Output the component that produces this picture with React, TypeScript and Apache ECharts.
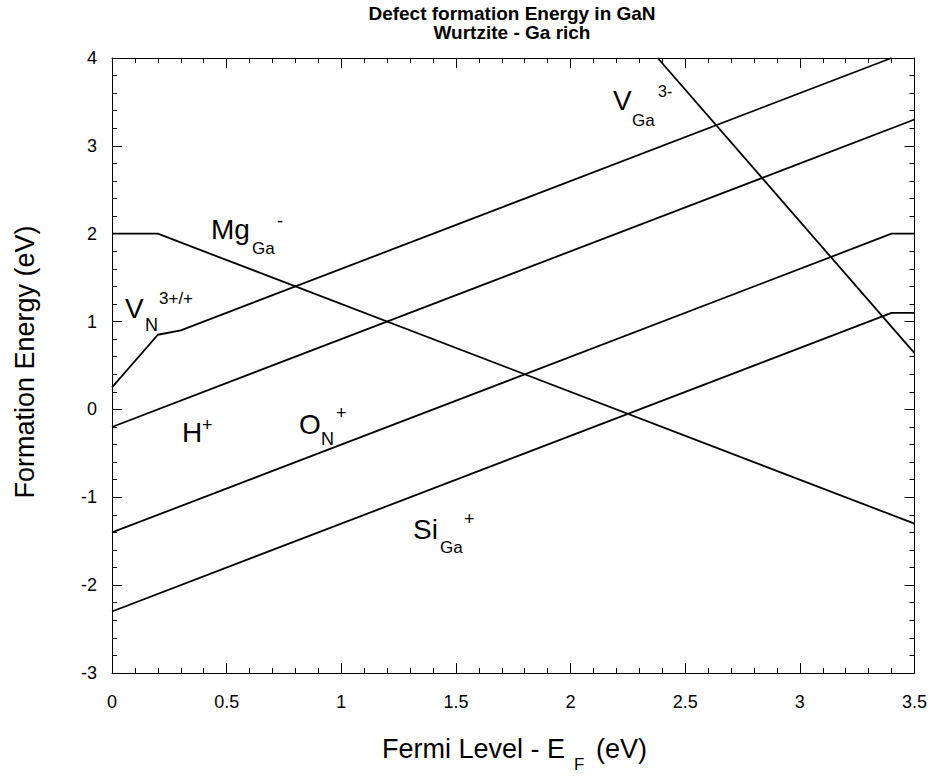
import React, { useEffect, useRef } from "react";
import * as echarts from "echarts";

const FONT = '"Liberation Sans", Arial, Helvetica, sans-serif';

// Axis ranges
const xRange = [0, 3.5];
const yRange = [-3, 4];

// Defect formation energy lines (eV)
const mgGaX = [0, 0.2, 3.5];
const mgGaY = [2.0, 2.0, -1.3];

const vNX = [0, 0.2, 0.3, 3.4];
const vNY = [0.25, 0.85, 0.9, 4.0];

const hX = [0, 3.5];
const hY = [-0.2, 3.3];

const oNX = [0, 3.4, 3.5];
const oNY = [-1.4, 2.0, 2.0];

const siGaX = [0, 3.4, 3.5];
const siGaY = [-2.3, 1.1, 1.1];

const vGaX = [2.38, 3.5];
const vGaY = [4.0, 0.64];

const titleLines = ["Defect formation Energy in GaN", "Wurtzite - Ga rich"];
const yTitle = "Formation Energy (eV)";

const pairs = (xs: number[], ys: number[]) => xs.map((x, i) => [x, ys[i]]);

function txt(x: number, y: number, text: string, size: number, extra: any = {}) {
  return {
    type: "text",
    x,
    y,
    silent: true,
    style: {
      text,
      fontSize: size,
      fontFamily: FONT,
      fill: "#000",
      align: "left",
      verticalAlign: "middle",
      ...extra,
    },
  };
}

export default function App() {
  const ref = useRef<HTMLDivElement>(null);

  useEffect(() => {
    document.body.style.margin = "0";
    if (!ref.current) return;
    const chart = echarts.init(ref.current, undefined, { renderer: "svg" });

    const axisCommon = {
      type: "value",
      axisLine: { show: true, onZero: false, lineStyle: { color: "#000", width: 1 } },
      axisTick: { show: true, inside: true, length: 10, lineStyle: { color: "#000", width: 1 } },
      minorTick: { show: true, splitNumber: 5, length: 5, lineStyle: { color: "#000", width: 1 } },
      splitLine: { show: false },
      minorSplitLine: { show: false },
    };

    const lineSeries = (name: string, xs: number[], ys: number[]) => ({
      name,
      type: "line",
      xAxisIndex: 0,
      yAxisIndex: 0,
      data: pairs(xs, ys),
      symbol: "none",
      clip: true,
      lineStyle: { color: "#000", width: 1.8 },
    });

    const option: any = {
      animation: false,
      backgroundColor: "#fff",
      grid: { left: 112, right: 15, top: 58, bottom: 104, containLabel: false },
      xAxis: [
        {
          ...axisCommon,
          position: "bottom",
          min: xRange[0],
          max: xRange[1],
          interval: 0.5,
          axisLabel: { color: "#000", fontSize: 18, fontFamily: FONT, margin: 20 },
        },
        {
          ...axisCommon,
          position: "top",
          min: xRange[0],
          max: xRange[1],
          interval: 0.5,
          axisLabel: { show: false },
        },
      ],
      yAxis: [
        {
          ...axisCommon,
          position: "left",
          min: yRange[0],
          max: yRange[1],
          interval: 1,
          axisLabel: { color: "#000", fontSize: 18, fontFamily: FONT, margin: 15 },
        },
        {
          ...axisCommon,
          position: "right",
          min: yRange[0],
          max: yRange[1],
          interval: 1,
          axisLabel: { show: false },
        },
      ],
      series: [
        lineSeries("Mg_Ga-", mgGaX, mgGaY),
        lineSeries("V_N3+/+", vNX, vNY),
        lineSeries("H+", hX, hY),
        lineSeries("O_N+", oNX, oNY),
        lineSeries("Si_Ga+", siGaX, siGaY),
        lineSeries("V_Ga3-", vGaX, vGaY),
      ],
      graphic: [
        // title
        txt(512, 13, titleLines[0], 19, { align: "center", fontWeight: "bold" }),
        txt(512, 32, titleLines[1], 19, { align: "center", fontWeight: "bold" }),
        // y axis title
        {
          type: "text",
          x: 25,
          y: 362,
          rotation: Math.PI / 2,
          silent: true,
          style: {
            text: yTitle,
            fontSize: 27,
            fontFamily: FONT,
            fill: "#000",
            align: "center",
            verticalAlign: "middle",
          },
        },
        // x axis title
        txt(382, 749, "Fermi Level - E", 27),
        txt(574, 764, "F", 17),
        txt(596, 749, "(eV)", 27),
        // V_N 3+/+
        txt(125, 308, "V", 28),
        txt(145, 325, "N", 18),
        txt(159, 298, "3+/+", 17),
        // Mg_Ga -
        txt(211, 229, "Mg", 28),
        txt(252, 248, "Ga", 17),
        txt(277, 221, "-", 18),
        // H+
        txt(182, 432, "H", 28),
        txt(202, 425, "+", 18),
        // O_N +
        txt(299, 424, "O", 28),
        txt(321, 439, "N", 18),
        txt(336, 413, "+", 18),
        // Si_Ga +
        txt(413, 529, "Si", 28),
        txt(440, 547, "Ga", 17),
        txt(464, 519, "+", 18),
        // V_Ga 3-
        txt(613, 100, "V", 28),
        txt(632, 120, "Ga", 17),
        txt(658, 91, "3-", 16),
      ],
    };

    chart.setOption(option);
    return () => chart.dispose();
  }, []);

  return <div ref={ref} style={{ width: 930, height: 777 }} />;
}
